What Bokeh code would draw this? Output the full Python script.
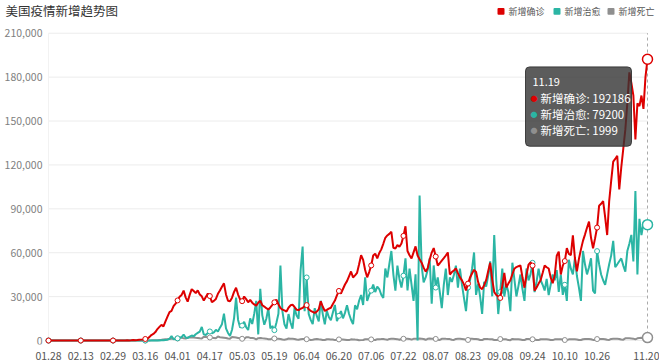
import pandas as pd
from bokeh.plotting import figure
from bokeh.models import Range1d, FixedTicker, Label, BoxAnnotation
from bokeh.core.properties import value
from bokeh.embed import file_html
from bokeh.resources import INLINE

# ---------------- data ----------------
dates = pd.date_range("2020-01-28", "2020-11-20").strftime("%m.%d").tolist()

tick_labels = ["01.28", "02.13", "02.29", "03.16", "04.01", "04.17", "05.03", "05.19",
               "06.04", "06.20", "07.06", "07.22", "08.07", "08.23", "09.08", "09.24",
               "10.10", "10.26", "11.20"]

y_ticks = [0, 30000, 60000, 90000, 120000, 150000, 180000, 210000]
y_tick_labels = ["0", "30,000", "60,000", "90,000", "120,000", "150,000", "180,000", "210,000"]

series_names = ["新增确诊", "新增治愈", "新增死亡"]

confirmed = [
    1, 0, 0, 1, 0, 1, 0, 0, 0, 1,
    0, 0, 1, 0, 0, 0, 1, 0, 0, 0,
    0, 1, 0, 12, 0, 0, 3, 1, 4, 5,
    3, 4, 8, 19, 16, 21, 32, 74, 95, 120,
    105, 180, 290, 230, 350, 510, 620, 780, 1050, 1330,
    2340, 3770, 4520, 5780, 7840, 9310, 10680, 9690, 13120, 16280,
    19420, 20260, 23450, 25230, 27400, 29870, 31160, 34120, 29500, 26600,
    31200, 35100, 33800, 32400, 34300, 31500, 30200, 27300, 29800, 32100,
    30400, 26200, 27100, 28400, 31900, 34200, 36800, 39100, 31500, 27200,
    26800, 29300, 33200, 36100, 31400, 28100, 26900, 30100, 28300, 26100,
    27800, 25900, 24700, 23900, 25800, 27300, 24100, 23200, 22100, 21200,
    22600, 24300, 26100, 27900, 24800, 22300, 21100, 20600, 19800, 22400,
    24100, 24500, 22900, 21100, 20800, 21700, 22300, 23600, 24200, 21400,
    20300, 19600, 18900, 19700, 21300, 26800, 23100, 20200, 20900, 21800,
    22400, 24900, 27300, 30800, 33900, 32100, 35200, 38300, 40600, 43900,
    47200, 43100, 44500, 46300, 52100, 58300, 55100, 48200, 43200, 46800,
    51300, 58100, 59400, 56200, 59800, 62300, 66100, 70200, 71800, 72900,
    74300, 63400, 62900, 65200, 64100, 66300, 71500, 78100, 61200, 58300,
    56100, 60200, 64300, 58100, 55600, 53200, 49800, 47100, 49300, 55400,
    60100, 63200, 57400, 51200, 52800, 54600, 56300, 58100, 60200, 45100,
    46800, 47900, 49300, 46100, 43200, 41100, 38400, 34200, 38900, 43100,
    45800, 48300, 46900, 40100, 36200, 35100, 37800, 41200, 47300, 53100,
    41800, 33200, 31100, 30200, 29100, 37400, 46200, 36300, 38900, 41200,
    45300, 49100, 50200, 50800, 51300, 43200, 36100, 44800, 51900, 53400,
    51200, 34100, 36300, 38900, 41200, 46100, 51300, 50100, 49200, 43100,
    39200, 44600, 57900, 60800, 45100, 51200, 54300, 63100, 59200, 58300,
    71900, 56400, 47200, 55800, 62300, 68100, 72400, 77100, 81300, 70200,
    63100, 69800, 77200, 92100, 93400, 95200, 84300, 72100, 95300, 109200,
    122300, 124100, 126300, 103200, 118400, 131200, 144100, 162300, 183200, 176100,
    167300, 137400, 162100, 160200, 167400, 158300, 180200, 192186,
]

recovered = [
    0, 0, 0, 0, 0, 0, 0, 0, 0, 0,
    0, 0, 0, 0, 0, 0, 0, 0, 0, 0,
    0, 0, 0, 0, 0, 0, 0, 0, 0, 0,
    0, 0, 0, 0, 0, 0, 0, 0, 0, 0,
    0, 0, 0, 0, 0, 0, 0, 0, 0, 0,
    0, 0, 0, 0, 0, 100, 200, 150, 400, 600,
    1200, 3100, 900, 1100, 1500, 1900, 2300, 4100, 2100, 1800,
    2600, 3400, 2900, 4300, 5200, 6100, 9300, 4200, 3800, 5100,
    6200, 4900, 5600, 7300, 6100, 8800, 11200, 18400, 8300, 5200,
    3100, 7400, 15200, 29300, 14100, 8900, 10200, 12800, 9100, 7200,
    15100, 11300, 18200, 27100, 4200, 35300, 17200, 10800, 14900, 22100,
    8300, 9900, 7100, 12200, 18300, 51200, 19800, 11100, 8200, 18100,
    12300, 8100, 22300, 17100, 14900, 48100, 64200, 20100, 43100, 18200,
    14100, 11200, 22100, 16800, 13100, 27200, 17900, 11100, 20300, 16100,
    13900, 19200, 24300, 13200, 16900, 20100, 15200, 18900, 24100, 18300,
    14200, 11200, 24100, 21300, 27200, 31100, 24300, 43200, 27100, 31200,
    34100, 38200, 33100, 36900, 35200, 31300, 29100, 49200, 43100, 52300,
    61200, 45100, 34100, 51200, 42100, 36200, 44300, 56100, 34200, 49100,
    38200, 27100, 45200, 0, 99100, 51200, 39800, 43100, 48200, 56100,
    25100, 51300, 36200, 43100, 33200, 22100, 38100, 49200, 31100, 43200,
    40100, 44800, 51200, 36100, 49100, 38200, 29100, 20100, 36200, 41100,
    48900, 60200, 31200, 38900, 30100, 18200, 40100, 36800, 44200, 54100,
    30200, 72100, 41200, 18100, 33200, 49100, 30100, 38200, 33100, 20100,
    53200, 41800, 30100, 37200, 45100, 35200, 27100, 49200, 41100, 45200,
    53100, 33100, 40200, 49100, 41200, 38100, 34200, 42100, 31100, 38200,
    45100, 41200, 48100, 33200, 45100, 31200, 38100, 27100, 55200, 49100,
    45200, 56100, 44100, 36200, 27100, 61200, 52100, 45200, 50100, 56200,
    34100, 32200, 61100, 52200, 45100, 41200, 38100, 45200, 52100, 58200,
    68100, 50200, 52100, 54200, 56100, 51200, 47100, 61200, 66100, 72200,
    54100, 102200, 45100, 83200, 72100, 80200, 78900, 79200,
]

deaths = [
    0, 0, 0, 0, 0, 0, 0, 0, 0, 0,
    0, 0, 0, 0, 0, 0, 0, 0, 0, 0,
    0, 0, 0, 0, 0, 0, 0, 0, 0, 0,
    0, 0, 1, 0, 1, 2, 1, 1, 2, 3,
    2, 4, 3, 5, 8, 12, 17, 25, 40, 55,
    80, 110, 160, 230, 260, 400, 500, 650, 800, 900,
    1100, 1200, 1300, 1250, 1400, 1900, 2000, 1500, 1300, 1900,
    2000, 2100, 2100, 1900, 1800, 1500, 1400, 2600, 2400, 2200,
    2100, 1900, 1700, 1500, 2700, 2300, 2100, 1900, 1700, 1400,
    1300, 2400, 2200, 2000, 1800, 1600, 1200, 1100, 2200, 2300,
    1800, 1700, 1500, 800, 1600, 1700, 1500, 1400, 1300, 900,
    800, 1500, 1400, 1300, 1200, 1100, 700, 600, 800, 1400,
    1300, 1200, 1100, 700, 600, 900, 1100, 1000, 900, 800,
    400, 500, 900, 1000, 800, 700, 400, 350, 850, 800,
    750, 650, 300, 300, 750, 700, 650, 600, 350, 300,
    800, 750, 650, 600, 250, 280, 400, 900, 850, 800,
    750, 500, 400, 950, 950, 1000, 1100, 800, 500, 1100,
    1150, 1200, 1100, 950, 550, 1050, 1200, 1300, 1250, 1100,
    600, 1150, 1250, 1300, 1350, 1200, 1050, 500, 1200, 1350,
    1300, 1250, 1100, 600, 400, 1200, 1250, 1150, 1100, 1000,
    500, 400, 1100, 1200, 1150, 1050, 950, 450, 400, 1200,
    1150, 1100, 1050, 900, 400, 350, 1050, 1100, 1000, 950,
    850, 350, 300, 450, 1000, 950, 900, 800, 300, 250,
    1100, 950, 900, 850, 700, 350, 300, 1050, 1000, 900,
    850, 750, 350, 300, 900, 950, 900, 850, 750, 400,
    300, 800, 950, 900, 850, 700, 350, 300, 800, 900,
    950, 900, 750, 400, 350, 900, 1000, 1050, 1000, 900,
    450, 400, 1000, 1050, 1100, 1050, 900, 500, 400, 1100,
    1200, 1150, 1200, 1100, 700, 600, 1500, 1600, 1500, 1400,
    1300, 800, 1500, 1700, 1900, 1800, 1400, 1999,
]

tooltip_date = "11.19"

# ---------------- layout ----------------
W, H = 659, 362
FONT = "Noto Sans CJK SC"
RED, TEAL, GRAY = "#dd0000", "#2bb5a4", "#8f8f8f"
COLORS = [RED, TEAL, GRAY]

n = len(dates)
idx = list(range(n))
tick_idx = [dates.index(t) for t in tick_labels]

# pixel layout (canvas px): first day at x=48, last at x=647,
# value 0 at y=343, 210,000 at y=33. Frame spans the canvas except the x-axis strip.
PX0, PX1 = 48.0, 647.0
PY0, PY1 = 343.0, 33.0
FB = 347
sx = (PX1 - PX0) / (idx[-1] - idx[0])
sy = (PY0 - PY1) / (y_ticks[-1] - y_ticks[0])
X_LO = idx[0] - PX0 / sx
X_HI = idx[-1] + (W - PX1) / sx
Y_LO = y_ticks[0] - (FB - PY0) / sy
Y_HI = y_ticks[-1] + PY1 / sy


def dx(px):
    return idx[0] + (px - PX0) / sx


def dy(py):
    return y_ticks[0] + (PY0 - py) / sy


p = figure(width=W, height=H, output_backend="svg", toolbar_location=None,
           x_range=Range1d(X_LO, X_HI), y_range=Range1d(Y_LO, Y_HI),
           min_border_left=0, min_border_right=0,
           min_border_top=0, min_border_bottom=H - FB)
p.outline_line_color = None
p.background_fill_color = "white"
p.border_fill_color = "white"

# x axis
p.xaxis.ticker = FixedTicker(ticks=tick_idx)
p.xaxis.major_label_overrides = {i: t for i, t in zip(tick_idx, tick_labels)}
p.xaxis.axis_line_color = None
p.xaxis.major_tick_line_color = None
p.xaxis.minor_tick_line_color = None
p.xaxis.major_label_standoff = 1
p.xaxis.major_label_text_font = FONT
p.xaxis.major_label_text_font_size = "10.5px"
p.xaxis.major_label_text_color = "#555555"

# y axis labels and grid, drawn inside the frame so the header is not clipped
p.yaxis.visible = False
p.xgrid.visible = False
p.ygrid.visible = False
p.segment(x0=[idx[0]] * len(y_ticks), x1=[idx[-1]] * len(y_ticks), y0=y_ticks, y1=y_ticks,
          line_color="#ececec", line_width=1)
p.line([idx[0], idx[0]], [y_ticks[0], y_ticks[-1]], line_color="#f2f2f2", line_width=1)
p.text(x=[dx(42)] * len(y_ticks), y=y_ticks, text=y_tick_labels,
       text_font=value(FONT), text_font_size="10.5px", text_color="#808080",
       text_align="right", text_baseline="middle")

# axis pointer
p.line([idx[-1], idx[-1]], [y_ticks[0], y_ticks[-1]], line_color="#aaaaaa",
       line_dash="3 3", line_width=1)

# series
order = [(deaths, GRAY), (recovered, TEAL), (confirmed, RED)]
for vals, col in order:
    p.line(idx, vals, line_color=col, line_width=2)
    p.scatter([idx[i] for i in tick_idx[:-1]], [vals[i] for i in tick_idx[:-1]],
              size=5, marker="circle", fill_color="white", line_color=col, line_width=1)
    p.scatter([idx[-1]], [vals[-1]], size=10, marker="circle", fill_color="white",
              line_color=col, line_width=1.5)

# title
p.add_layout(Label(x=dx(5), y=dy(10), text="美国疫情新增趋势图", text_font=FONT,
                   text_font_size="12.5px", text_color="#333333",
                   text_baseline="middle", text_align="left"))

# legend: small rounded squares + labels
legend_x = [497, 553, 607]
for name, col, lx in zip(series_names, COLORS, legend_x):
    p.add_layout(BoxAnnotation(left=dx(lx), right=dx(lx + 7), top=dy(7.5), bottom=dy(14.5),
                               fill_color=col, fill_alpha=1, line_color=None,
                               border_radius=1))
    p.add_layout(Label(x=dx(lx + 11), y=dy(11), text=name, text_font=FONT,
                       text_font_size="9px", text_color="#555555",
                       text_baseline="middle", text_align="left"))

# tooltip
p.add_layout(BoxAnnotation(left=dx(525), right=dx(631), top=dy(67), bottom=dy(147),
                           fill_color="#333333", fill_alpha=0.8,
                           line_color="#333333", line_alpha=0.9, line_width=1,
                           border_radius=4))
p.add_layout(Label(x=dx(532), y=dy(82), text=tooltip_date, text_font=FONT,
                   text_font_size="11px", text_color="white",
                   text_baseline="middle"))
tip_vals = [confirmed[-1], recovered[-1], deaths[-1]]
for k, (name, col, v) in enumerate(zip(series_names, COLORS, tip_vals)):
    yy = 98 + k * 16.5
    p.add_layout(Label(x=dx(530), y=dy(yy), text="●", text_font=FONT,
                       text_font_size="7px", text_color=col, text_baseline="middle"))
    p.add_layout(Label(x=dx(540), y=dy(yy), text=f"{name}: {v}", text_font=FONT,
                       text_font_size="11.5px", text_color="white",
                       text_baseline="middle"))

open("out.html", "w").write(file_html(p, INLINE))
